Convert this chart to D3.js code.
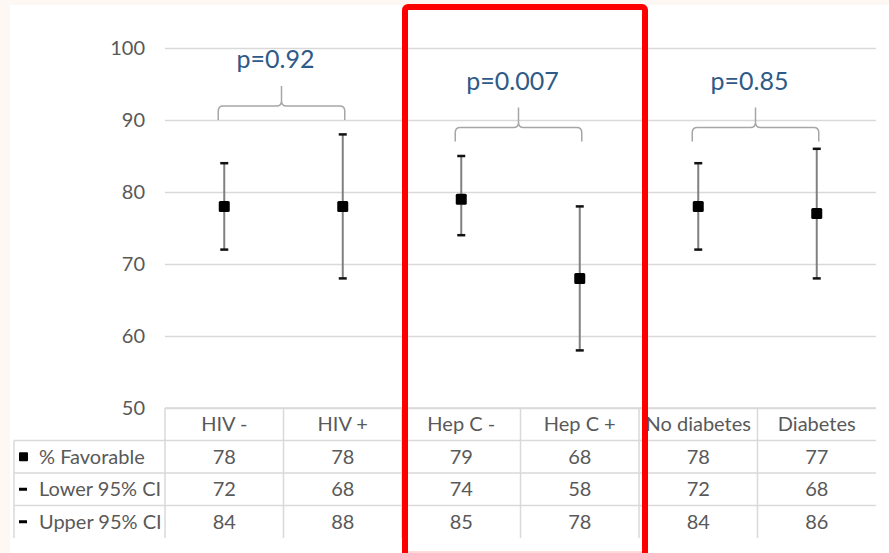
<!DOCTYPE html>
<html>
<head>
<meta charset="utf-8">
<script src="https://cdn.jsdelivr.net/npm/d3@7"></script>
<style>
  body { margin: 0; background: #fdf8f4; }
  svg { display: block; font-family: Lato, "Open Sans", sans-serif; }
</style>
</head>
<body>
<svg id="chart" width="889" height="553"></svg>
<script>
// data
var categories = ["HIV -", "HIV +", "Hep C -", "Hep C +", "No diabetes", "Diabetes"];
var favorable = [78, 78, 79, 68, 78, 77];
var lower = [72, 68, 74, 58, 72, 68];
var upper = [84, 88, 85, 78, 84, 86];
var yTicks = [50, 60, 70, 80, 90, 100];
var rowLabels = ["% Favorable", "Lower 95% CI", "Upper 95% CI"];
var pLabels = ["p=0.92", "p=0.007", "p=0.85"];
var braceBase = [90, 87, 87];   // value where brace ends touch

var svg = d3.select("#chart");
var W = 889, H = 553;

svg.append("rect").attr("x", 10).attr("y", 5).attr("width", W - 10).attr("height", H - 5).attr("fill", "#fff");

var left = 165, right = 876;
var x = d3.scaleBand().domain(categories).range([left, right]);
var y = d3.scaleLinear().domain([50, 100]).range([408, 48]);
var grey = "#595959", lineCol = "#d9d9d9";

// gridlines
svg.append("g").selectAll("line").data(yTicks).enter().append("line")
  .attr("x1", left).attr("x2", right)
  .attr("y1", function(d){ return y(d) + 0.5; }).attr("y2", function(d){ return y(d) + 0.5; })
  .attr("stroke", lineCol).attr("stroke-width", 1.3);

// y axis labels
var yAxis = d3.axisLeft(y).tickValues(yTicks).tickSize(0).tickPadding(20);
var ga = svg.append("g").attr("transform", "translate(" + left + ",0)").call(yAxis);
ga.select(".domain").remove();
ga.selectAll("text").attr("font-size", 20).attr("fill", grey).attr("font-family", "Lato, sans-serif");

// error bars
var bars = svg.append("g").selectAll("g").data(categories).enter().append("g");
bars.append("line")
  .attr("x1", function(d){ return x(d) + x.bandwidth() / 2; })
  .attr("x2", function(d){ return x(d) + x.bandwidth() / 2; })
  .attr("y1", function(d, i){ return y(upper[i]); })
  .attr("y2", function(d, i){ return y(lower[i]); })
  .attr("stroke", "#808080").attr("stroke-width", 2);
[upper, lower].forEach(function(arr){
  bars.append("line")
    .attr("x1", function(d){ return x(d) + x.bandwidth() / 2 - 4; })
    .attr("x2", function(d){ return x(d) + x.bandwidth() / 2 + 4; })
    .attr("y1", function(d, i){ return y(arr[i]); })
    .attr("y2", function(d, i){ return y(arr[i]); })
    .attr("stroke", "#111").attr("stroke-width", 2.5);
});
bars.append("rect")
  .attr("x", function(d){ return x(d) + x.bandwidth() / 2 - 5.5; })
  .attr("y", function(d, i){ return y(favorable[i]) - 5.5; })
  .attr("width", 11).attr("height", 11).attr("rx", 1.5)
  .attr("fill", "#000");

// braces and p-values
pLabels.forEach(function(p, g){
  var c1 = x(categories[g * 2]) + x.bandwidth() / 2 - 6;
  var c2 = x(categories[g * 2 + 1]) + x.bandwidth() / 2 + 2;
  var yb = y(braceBase[g]), yh = yb - 14, yt = yb - 34;
  var cx = (c1 + c2) / 2, r = 5;
  var path = "M" + c1 + "," + yb +
    " L" + c1 + "," + (yh + r) + " Q" + c1 + "," + yh + " " + (c1 + r) + "," + yh +
    " L" + (cx - r) + "," + yh + " Q" + cx + "," + yh + " " + cx + "," + (yh - r) +
    " L" + cx + "," + yt +
    " M" + cx + "," + (yh - r) + " Q" + cx + "," + yh + " " + (cx + r) + "," + yh +
    " L" + (c2 - r) + "," + yh + " Q" + c2 + "," + yh + " " + c2 + "," + (yh + r) +
    " L" + c2 + "," + yb;
  svg.append("path").attr("d", path).attr("fill", "none")
    .attr("stroke", "#a6a6a6").attr("stroke-width", 1.5);
  svg.append("text").attr("x", cx - 6).attr("y", yt - 18)
    .attr("text-anchor", "middle").attr("font-size", 25)
    .attr("fill", "#2e5a87").text(p);
});

// data table
var rowH = 32.5, tTop = 408, tLeft = 14;
var table = svg.append("g");
// horizontal lines
for (var r = 0; r < 4; r++) {
  var yy = tTop + r * rowH;
  table.append("line").attr("x1", r === 0 ? left : tLeft).attr("x2", right)
    .attr("y1", yy).attr("y2", yy).attr("stroke", lineCol).attr("stroke-width", 1.5);
}
// vertical lines
table.selectAll("line.v").data(categories).enter().append("line")
  .attr("class", "v")
  .attr("x1", function(d){ return x(d); }).attr("x2", function(d){ return x(d); })
  .attr("y1", tTop).attr("y2", tTop + 4 * rowH)
  .attr("stroke", lineCol).attr("stroke-width", 1.5);
table.append("line").attr("x1", tLeft).attr("x2", tLeft)
  .attr("y1", tTop + rowH).attr("y2", tTop + 4 * rowH)
  .attr("stroke", lineCol).attr("stroke-width", 1.5);

// header
table.selectAll("text.h").data(categories).enter().append("text")
  .attr("class", "h")
  .attr("x", function(d){ return x(d) + x.bandwidth() / 2; })
  .attr("y", tTop + rowH / 2 + 7)
  .attr("text-anchor", "middle").attr("font-size", 20).attr("fill", grey)
  .text(function(d){ return d; });

[favorable, lower, upper].forEach(function(arr, r){
  var yc = tTop + (r + 1) * rowH + rowH / 2;
  table.append("g").selectAll("text").data(arr).enter().append("text")
    .attr("x", function(d, i){ return x(categories[i]) + x.bandwidth() / 2; })
    .attr("y", yc + 7)
    .attr("text-anchor", "middle").attr("font-size", 20).attr("fill", grey)
    .text(function(d){ return d; });
  table.append("text").attr("x", 39).attr("y", yc + 7)
    .attr("font-size", 20).attr("fill", grey).text(rowLabels[r]);
  if (r === 0) {
    table.append("rect").attr("x", 19).attr("y", yc - 4.5).attr("width", 9).attr("height", 9).attr("rx", 1).attr("fill", "#000");
  } else {
    table.append("rect").attr("x", 19).attr("y", yc - 1.5).attr("width", 8).attr("height", 3).attr("fill", "#000");
  }
});

// red highlight box
svg.append("line").attr("x1", 408).attr("x2", 642).attr("y1", 552).attr("y2", 552)
  .attr("stroke", "#ffb0b0").attr("stroke-width", 1);
svg.append("rect").attr("x", 405).attr("y", 7).attr("width", 240).attr("height", 570)
  .attr("rx", 3).attr("fill", "none").attr("stroke", "#ff0000").attr("stroke-width", 6);
</script>
</body>
</html>
